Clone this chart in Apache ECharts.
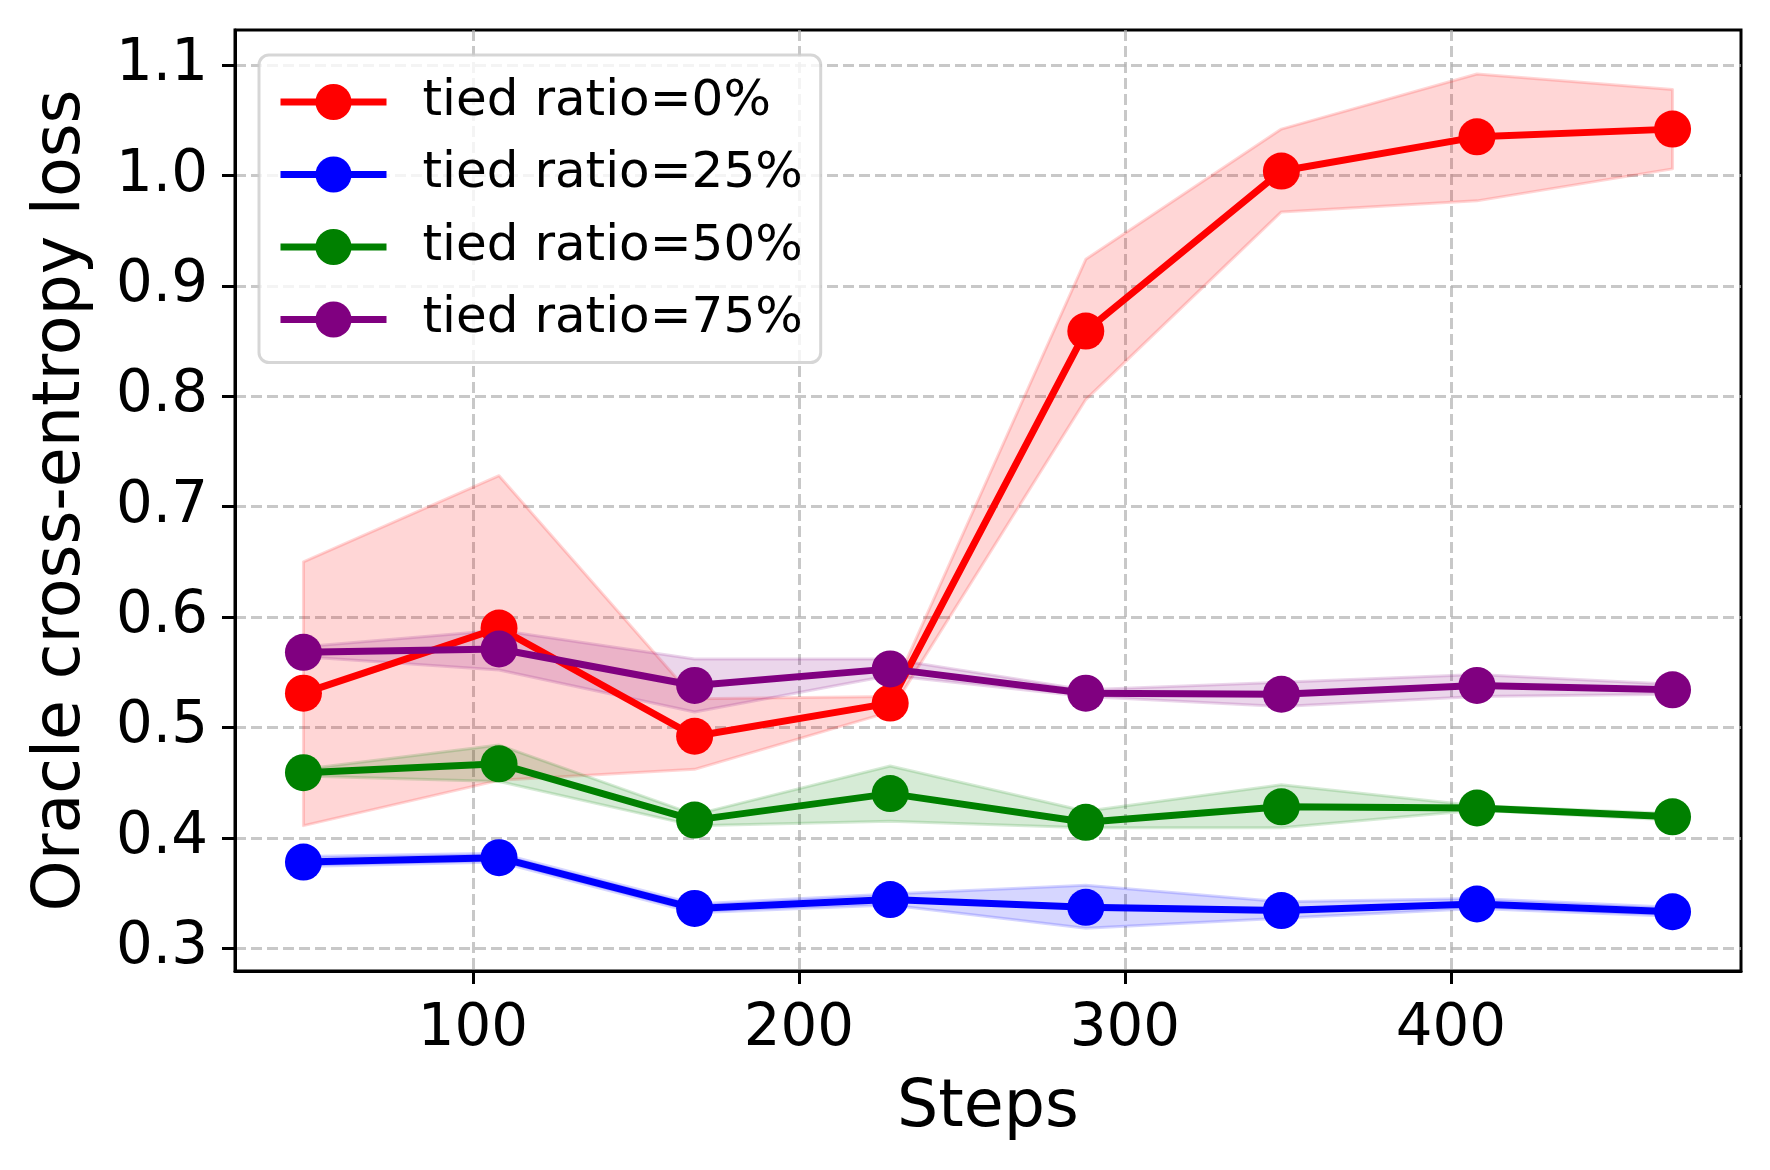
<!DOCTYPE html>
<html><head><meta charset="utf-8">
<script src="https://cdn.jsdelivr.net/npm/echarts@6/dist/echarts.min.js"></script>
<style>html,body{margin:0;padding:0;background:#fff}#c{width:1770px;height:1170px}</style>
</head><body><div id="c"></div>
<script>
const steps = [48, 108, 168, 228, 288, 348, 408, 468];
const seriesNames = ['tied ratio=0%', 'tied ratio=25%', 'tied ratio=50%', 'tied ratio=75%'];
const xTicks = [100, 200, 300, 400];
const yTicks = [0.3, 0.4, 0.5, 0.6, 0.7, 0.8, 0.9, 1.0, 1.1];

const mean0  = [0.531, 0.590, 0.492, 0.522, 0.859, 1.004, 1.035, 1.042];
const lower0 = [0.411, 0.452, 0.462, 0.514, 0.797, 0.967, 0.977, 1.006];
const upper0 = [0.650, 0.728, 0.526, 0.528, 0.924, 1.042, 1.092, 1.078];

const mean25  = [0.378, 0.382, 0.336, 0.344, 0.337, 0.334, 0.340, 0.333];
const lower25 = [0.374, 0.378, 0.332, 0.339, 0.318, 0.327, 0.336, 0.329];
const upper25 = [0.383, 0.386, 0.340, 0.349, 0.357, 0.342, 0.345, 0.337];

const mean50  = [0.459, 0.467, 0.416, 0.440, 0.414, 0.428, 0.427, 0.419];
const lower50 = [0.456, 0.451, 0.411, 0.415, 0.409, 0.409, 0.425, 0.416];
const upper50 = [0.462, 0.484, 0.421, 0.465, 0.424, 0.448, 0.429, 0.422];

const mean75  = [0.568, 0.571, 0.538, 0.553, 0.531, 0.530, 0.538, 0.534];
const lower75 = [0.564, 0.552, 0.514, 0.547, 0.528, 0.519, 0.528, 0.530];
const upper75 = [0.573, 0.588, 0.562, 0.562, 0.534, 0.541, 0.548, 0.539];

const colors = ['#ff0000', '#0000ff', '#008000', '#800080'];
const bandColors = ['rgba(255,0,0,0.16)', 'rgba(0,0,255,0.16)', 'rgba(0,128,0,0.16)', 'rgba(128,0,128,0.16)'];
const means = [mean0, mean25, mean50, mean75];
const lowers = [lower0, lower25, lower50, lower75];
const uppers = [upper0, upper25, upper50, upper75];

const FONT = 'DejaVu Sans';

function lineSeries(k) {
  return {
    name: seriesNames[k],
    type: 'line',
    data: steps.map((s, i) => [s, means[k][i]]),
    symbol: 'circle',
    symbolSize: 37,
    showSymbol: true,
    lineStyle: { color: colors[k], width: 7 },
    itemStyle: { color: colors[k] },
    emphasis: { disabled: true },
    clip: false
  };
}
function bandSeries(k) {
  const lo = lowers[k], up = uppers[k];
  return {
    type: 'custom',
    silent: true,
    data: [[steps[0], lo[0]]],
    renderItem: function (params, api) {
      const pts = [];
      for (let i = 0; i < steps.length; i++) pts.push(api.coord([steps[i], up[i]]));
      for (let i = steps.length - 1; i >= 0; i--) pts.push(api.coord([steps[i], lo[i]]));
      return {
        type: 'polygon',
        shape: { points: pts },
        style: { fill: bandColors[k], stroke: bandColors[k], lineWidth: 3, lineJoin: 'round' }
      };
    }
  };
}

const series = [];
for (let k = 0; k < 4; k++) { series.push(lineSeries(k)); series.push(bandSeries(k)); }

const chart = echarts.init(document.getElementById('c'));
chart.setOption({
  animation: false,
  backgroundColor: '#ffffff',
  textStyle: { fontFamily: FONT },
  grid: {
    left: 235, right: 29, top: 30, bottom: 199,
    show: true, borderColor: '#000', borderWidth: 3, backgroundColor: 'transparent',
    outerBoundsMode: 'none', containLabel: false
  },
  legend: {
    data: seriesNames,
    left: 259, top: 55,
    orient: 'vertical',
    itemWidth: 106, itemHeight: 45, itemGap: 22.5,
    padding: [22, 18, 18, 18],
    backgroundColor: 'rgba(255,255,255,0.8)',
    borderColor: 'rgba(204,204,204,0.8)',
    borderWidth: 3, borderRadius: 10,
    lineStyle: { width: 7 },
    textStyle: { fontFamily: FONT, fontSize: 50, color: '#000', lineHeight: 50, padding: [0, 0, 0, 31] },
    selectedMode: false
  },
  xAxis: {
    type: 'value', min: 27, max: 489,
    name: 'Steps', nameLocation: 'middle', nameGap: 106,
    nameTextStyle: { fontFamily: FONT, fontSize: 65, color: '#000' },
    axisLine: { show: true, onZero: false, lineStyle: { color: '#000', width: 3 } },
    axisTick: { show: true, length: 13, lineStyle: { color: '#000', width: 3 }, customValues: xTicks },
    axisLabel: { fontFamily: FONT, fontSize: 57.8, color: '#000', margin: 30, customValues: xTicks },
    splitLine: { show: true, lineStyle: { color: 'rgba(176,176,176,0.7)', width: 3, type: [11, 5] } }
  },
  yAxis: {
    type: 'value', min: 0.2793, max: 1.1318,
    name: 'Oracle cross-entropy loss', nameLocation: 'middle', nameGap: 140,
    nameTextStyle: { fontFamily: FONT, fontSize: 65, color: '#000' },
    axisLine: { show: true, onZero: false, lineStyle: { color: '#000', width: 3 } },
    axisTick: { show: true, length: 13, lineStyle: { color: '#000', width: 3 }, customValues: yTicks },
    axisLabel: { fontFamily: FONT, fontSize: 57.8, color: '#000', margin: 27, customValues: yTicks,
      formatter: v => Number(v).toFixed(1) },
    splitLine: { show: true, lineStyle: { color: 'rgba(176,176,176,0.7)', width: 3, type: [11, 5] } }
  },
  series: series
});
</script></body></html>
